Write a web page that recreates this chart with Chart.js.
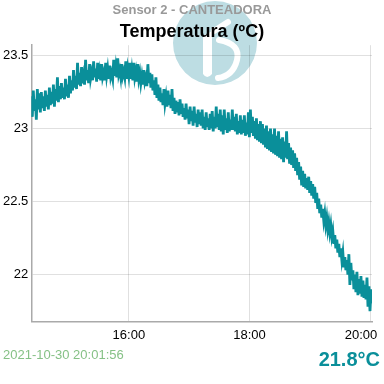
<!DOCTYPE html>
<html>
<head>
<meta charset="utf-8">
<script src="https://cdn.jsdelivr.net/npm/chart.js@4"></script>
<style>
    body { margin: 0; background: #fff; font-family: 'Liberation Sans', Arial, sans-serif; }
    #wrap { position: relative; width: 384px; height: 384px; overflow: hidden; }
    #box { position: absolute; left: 0; top: 0; width: 384px; height: 349px; }
    #stamp { position: absolute; left: 3px; top: 347px; font-size: 13px; line-height: 16px; color: #86c186; }
    #current { position: absolute; right: 4px; top: 347px; font-size: 20px; line-height: 24px; font-weight: bold; color: #0a8f9a; }
</style>
</head>
<body>
<div id="wrap">
    <div id="box"><canvas id="tempChart"></canvas></div>
    <div id="stamp"></div>
    <div id="current"></div>
</div>
<script>
const sensorName = 'Sensor 2 - CANTEADORA';
const chartTitle = 'Temperatura (ºC)';
const lastReading = '2021-10-30 20:01:56';
const currentTemp = '21.8°C';

// one reading per minute, first at 14:22:56, last at 20:01:56
const startMinute = 14 * 60 + 22 + 56 / 60;
const stepMinutes = 1;

const temps = [
    23.22, 23.08, 23.26, 23.12, 23.20, 23.06, 23.27, 23.13, 23.24, 23.11,
    23.25, 23.14, 23.22, 23.12, 23.26, 23.15, 23.23, 23.13, 23.28, 23.16,
    23.25, 23.17, 23.30, 23.15, 23.27, 23.19, 23.35, 23.18, 23.29, 23.20,
    23.31, 23.21, 23.28, 23.20, 23.34, 23.22, 23.30, 23.21, 23.36, 23.24,
    23.33, 23.26, 23.40, 23.28, 23.36, 23.27, 23.45, 23.30, 23.38, 23.29,
    23.42, 23.31, 23.36, 23.30, 23.47, 23.33, 23.40, 23.31, 23.44, 23.34,
    23.38, 23.33, 23.46, 23.35, 23.41, 23.32, 23.45, 23.34, 23.39, 23.33,
    23.44, 23.35, 23.38, 23.33, 23.45, 23.36, 23.41, 23.34, 23.43, 23.35,
    23.38, 23.34, 23.47, 23.36, 23.42, 23.35, 23.48, 23.37, 23.40, 23.35,
    23.44, 23.36, 23.39, 23.35, 23.46, 23.34, 23.41, 23.36, 23.45, 23.34,
    23.40, 23.33, 23.45, 23.35, 23.39, 23.32, 23.44, 23.34, 23.38, 23.31,
    23.36, 23.30, 23.40, 23.32, 23.35, 23.29, 23.44, 23.31, 23.38, 23.28,
    23.37, 23.26, 23.33, 23.23, 23.35, 23.21, 23.30, 23.19, 23.28, 23.18,
    23.24, 23.16, 23.27, 23.17, 23.22, 23.15, 23.26, 23.16, 23.23, 23.14,
    23.27, 23.12, 23.21, 23.10, 23.19, 23.11, 23.18, 23.09, 23.20, 23.10,
    23.17, 23.08, 23.14, 23.06, 23.17, 23.07, 23.13, 23.03, 23.15, 23.05,
    23.12, 23.02, 23.15, 23.04, 23.10, 23.01, 23.13, 23.03, 23.11, 23.02,
    23.13, 23.00, 23.08, 22.99, 23.11, 23.01, 23.07, 22.99, 23.10, 23.00,
    23.12, 22.98, 23.08, 23.00, 23.15, 23.01, 23.10, 22.99, 23.13, 22.98,
    23.09, 22.96, 23.13, 22.99, 23.07, 22.97, 23.11, 22.98, 23.06, 22.99,
    23.13, 22.99, 23.08, 22.98, 23.10, 22.96, 23.05, 22.97, 23.09, 22.96,
    23.06, 22.97, 23.09, 22.95, 23.04, 22.96, 23.11, 22.94, 23.13, 22.97,
    23.08, 22.95, 23.05, 22.93, 23.07, 22.92, 23.03, 22.91, 23.05, 22.90,
    23.03, 22.89, 23.00, 22.87, 23.02, 22.86, 22.98, 22.85, 23.00, 22.84,
    22.96, 22.83, 23.00, 22.82, 22.95, 22.81, 22.98, 22.80, 22.93, 22.79,
    22.94, 22.77, 22.91, 22.80, 22.98, 22.79, 22.90, 22.76, 22.87, 22.75,
    22.85, 22.73, 22.83, 22.71, 22.80, 22.68, 22.77, 22.65, 22.74, 22.61,
    22.71, 22.60, 22.69, 22.59, 22.66, 22.58, 22.67, 22.56, 22.64, 22.54,
    22.62, 22.52, 22.60, 22.49, 22.56, 22.45, 22.52, 22.42, 22.48, 22.39,
    22.45, 22.37, 22.42, 22.34, 22.39, 22.31, 22.36, 22.29, 22.34, 22.26,
    22.30, 22.21, 22.27, 22.18, 22.24, 22.15, 22.21, 22.12, 22.18, 22.10,
    22.15, 22.05, 22.12, 22.03, 22.10, 22.00, 22.14, 21.93, 22.08, 21.96,
    22.03, 21.90, 22.00, 21.88, 22.02, 21.86, 21.97, 21.87, 21.99, 21.85,
    21.96, 21.84, 21.93, 21.83, 21.98, 21.78, 21.92, 21.75, 21.90, 21.80
];

const xTicks = [16 * 60, 18 * 60, 20 * 60];
const yTicks = [22, 22.5, 23, 23.5];
const yMin = 21.68;
const yMax = 23.57;

document.getElementById('stamp').textContent = lastReading;
document.getElementById('current').textContent = currentTemp;

const points = temps.map((t, i) => ({ x: startMinute + i * stepMinutes, y: t }));

function hhmm(m) {
    const h = Math.floor(m / 60), mm = Math.round(m % 60);
    return String(h).padStart(2, '0') + ':' + String(mm).padStart(2, '0');
}

// faded company logo behind the plot
const logo = {
    id: 'logo',
    beforeDraw(c) {
        const ctx = c.ctx;
        ctx.save();
        ctx.fillStyle = '#bddde3';
        ctx.beginPath();
        ctx.arc(215, 43, 42, 0, Math.PI * 2);
        ctx.fill();
        ctx.fillStyle = '#fff';
        ctx.strokeStyle = '#fff';
        ctx.beginPath();
        ctx.moveTo(203, 36);
        ctx.lineTo(212, 31);
        ctx.lineTo(212, 74);
        ctx.quadraticCurveTo(207, 80, 203, 74);
        ctx.closePath();
        ctx.fill();
        ctx.lineWidth = 6;
        ctx.lineCap = 'round';
        ctx.beginPath();
        ctx.moveTo(214, 31);
        ctx.lineTo(228, 22);
        ctx.stroke();
        ctx.beginPath();
        ctx.moveTo(219, 40);
        ctx.quadraticCurveTo(241, 44, 237, 60);
        ctx.quadraticCurveTo(233, 76, 218, 78);
        ctx.stroke();
        ctx.restore();
    }
};

const fontFamily = "'Liberation Sans', Arial, sans-serif";

new Chart(document.getElementById('tempChart'), {
    type: 'line',
    data: {
        datasets: [{
            data: points,
            borderColor: '#0a8f9a',
            borderWidth: 2.8,
            pointRadius: 0,
            tension: 0,
            fill: false
        }]
    },
    options: {
        responsive: true,
        maintainAspectRatio: false,
        animation: false,
        layout: { padding: 0 },
        plugins: {
            legend: { display: false },
            tooltip: { enabled: false },
            title: {
                display: true,
                text: sensorName,
                color: '#999',
                font: { family: fontFamily, size: 13, weight: 'bold' },
                padding: { top: 3, bottom: 0 }
            },
            subtitle: {
                display: true,
                text: chartTitle,
                color: '#000',
                font: { family: fontFamily, size: 18, weight: 'bold' },
                padding: { top: 3, bottom: 2 }
            }
        },
        scales: {
            x: {
                type: 'linear',
                min: startMinute,
                max: startMinute + (temps.length - 1) * stepMinutes,
                afterBuildTicks: s => { s.ticks = xTicks.map(v => ({ value: v })); },
                // keep the plot wide; the last label sits a little left of its tick
                afterFit: s => { s.paddingRight = 12; },
                ticks: {
                    callback: (v, i, all) => hhmm(v) + (i === all.length - 1 ? '     ' : ''),
                    color: '#000',
                    font: { family: fontFamily, size: 13 },
                    padding: 6,
                    maxRotation: 0
                },
                grid: { color: 'rgba(0,0,0,0.12)', drawTicks: false },
                border: { color: '#aaa', width: 1.5 }
            },
            y: {
                min: yMin,
                max: yMax,
                afterBuildTicks: s => { s.ticks = yTicks.map(v => ({ value: v })); },
                ticks: {
                    callback: v => String(v),
                    color: '#000',
                    font: { family: fontFamily, size: 13 },
                    padding: 3
                },
                grid: { color: 'rgba(0,0,0,0.12)', drawTicks: false },
                border: { color: '#aaa', width: 1.5 }
            }
        }
    },
    plugins: [logo]
});
</script>
</body>
</html>
